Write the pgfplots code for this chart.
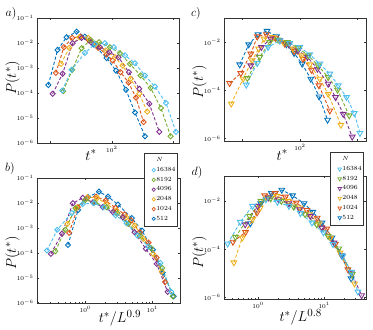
\documentclass[border=0pt]{standalone}
\usepackage{pgfplots}
\pgfplotsset{compat=1.18}
\definecolor{cB}{rgb}{0,0.447,0.741}
\definecolor{cO}{rgb}{0.850,0.325,0.098}
\definecolor{cY}{rgb}{0.929,0.694,0.125}
\definecolor{cP}{rgb}{0.494,0.184,0.556}
\definecolor{cG}{rgb}{0.466,0.674,0.188}
\definecolor{cL}{rgb}{0.301,0.745,0.933}
\pgfplotsset{
  myax/.style={
    scale only axis,
    axis line style={black!80, line width=0.6pt},
    tick align=inside,
    major tick length=2.2pt, minor tick length=1.2pt,
    every tick/.append style={black!80, line width=0.4pt},
    ticklabel style={font=\fontsize{5.6}{6.5}\selectfont},
    yminorticks=false,
    label style={font=\fontsize{15}{17}\selectfont},
    legend cell align=left,
    legend style={draw=black!80, line width=0.5pt, fill=white,
      font=\fontsize{6.3}{7}\selectfont, inner xsep=1pt, inner ysep=3.5pt, row sep=2.2pt,
      nodes={inner sep=0.9pt}},
  },
  sd/.style={color=#1, line width=0.9pt, dash pattern=on 3.2pt off 2pt,
    mark=diamond, mark size=2.6pt, mark options={solid, xscale=1.3, line width=0.9pt}},
  st/.style={color=#1, line width=0.9pt, dash pattern=on 3.2pt off 2pt,
    mark=triangle, mark size=3.3pt, mark options={solid, rotate=180, line width=0.9pt}},
  ld/.style={only marks, color=#1, mark=diamond, mark size=1.7pt, mark options={xscale=1.3, line width=0.7pt}},
  lt/.style={only marks, color=#1, mark=triangle, mark size=2.1pt, mark options={rotate=180, line width=0.7pt}},
}
\begin{document}
\begin{tikzpicture}
\path[use as bounding box] (0,0) rectangle (373pt,-330pt);

% a)
\begin{loglogaxis}[myax, at={(37pt,-18pt)}, anchor=north west,
  width=142pt, height=125pt,
  xmin=6, xmax=1250, ymin=1e-6, ymax=1e-1,
  xtick={10,100,1000}, xticklabels={,$10^{2}$,}, xminorticks=false,
  ytick={1e-6,1e-5,1e-4,1e-3,1e-2,1e-1},
  xlabel={$t^*$}, ylabel={$P(t^*)$},
  xlabel style={at={(axis description cs:0.38,-0.096)}, anchor=center},
  ylabel style={at={(axis description cs:-0.172,0.52)}, anchor=center}]
\addplot[sd=cB] coordinates {(9.2,2.1e-4) (13.0,5.3e-3) (18.2,0.017) (26.6,0.0285) (36.3,0.018) (51,8.6e-3) (82,2.5e-3) (117,7.9e-4) (170,1.35e-4) (239,1.66e-5) (348,1.86e-6)};
\addplot[sd=cO] coordinates {(12.2,6.4e-4) (16.5,6.8e-3) (22.6,0.016) (30.9,0.018) (42.8,0.0125) (60,6.4e-3) (82,3.5e-3) (103,2.0e-3) (139,6.8e-4) (188,2.6e-4) (248,6.5e-5) (330,6.9e-6)};
\addplot[sd=cY] coordinates {(14.8,1.46e-3) (20.2,6.4e-3) (29.4,0.017) (41.2,0.016) (56.4,9.2e-3) (80,5.0e-3) (112,2.7e-3) (150,1.26e-3) (203,3.7e-4) (281,9.3e-5) (379,1.8e-5)};
\addplot[sd=cP] coordinates {(10.8,9.3e-5) (15.7,5.9e-4) (22.9,9.8e-3) (32.1,0.016) (45.7,0.0107) (64,6.8e-3) (91,4.3e-3) (128,2.7e-3) (190,6.8e-4) (281,1.48e-4) (410,3.7e-5) (596,2.8e-6)};
\addplot[sd=cG] coordinates {(16.1,1.18e-4) (22.6,8.5e-4) (32.1,6.2e-3) (45,0.0132) (62,0.0107) (93,6.8e-3) (136,3.9e-3) (198,1.46e-3) (295,5.0e-4) (430,1.6e-4) (634,2.5e-5) (912,1.86e-6)};
\addplot[sd=cL] coordinates {(15.5,1.26e-4) (22,8.5e-4) (36.4,4.0e-3) (53,9.1e-3) (77,9.8e-3) (108,6.8e-3) (164,3.2e-3) (239,1.55e-3) (348,5.0e-4) (506,1.8e-4) (765,4.0e-5) (1114,2.8e-6)};
\end{loglogaxis}

% b)
\begin{loglogaxis}[myax, at={(37pt,-178pt)}, anchor=north west,
  width=143pt, height=125pt,
  xmin=0.19, xmax=26, ymin=1e-6, ymax=1e-1,
  xtick={1,10}, minor xtick={0.2,0.3,0.4,0.5,0.6,0.7,0.8,0.9,2,3,4,5,6,7,8,9,20},
  ytick={1e-6,1e-5,1e-4,1e-3,1e-2,1e-1},
  xlabel={$t^*/L^{0.9}$}, ylabel={$P(t^*)$},
  xlabel style={at={(axis description cs:0.58,-0.12)}, anchor=center},
  ylabel style={at={(axis description cs:-0.172,0.4)}, anchor=center},
  legend style={at={(rel axis cs:0.748,1.2)}, anchor=north west}]
\addlegendimage{empty legend}\addlegendentry{$N$}
\addlegendimage{ld=cL}\addlegendentry{16384}
\addlegendimage{ld=cG}\addlegendentry{8192}
\addlegendimage{ld=cP}\addlegendentry{4096}
\addlegendimage{ld=cY}\addlegendentry{2048}
\addlegendimage{ld=cO}\addlegendentry{1024}
\addlegendimage{ld=cB}\addlegendentry{512}
\addplot[sd=cB, forget plot] coordinates {(0.552,2.1e-4) (0.783,5.3e-3) (1.099,0.017) (1.600,0.0285) (2.188,0.018) (3.076,8.6e-3) (4.955,2.5e-3) (7.03,7.9e-4) (10.23,1.35e-4) (14.39,1.66e-5) (20.9,1.86e-6)};
\addplot[sd=cO, forget plot] coordinates {(0.574,6.4e-4) (0.774,6.8e-3) (1.062,0.016) (1.452,0.018) (2.014,0.0125) (2.825,6.4e-3) (3.864,3.5e-3) (4.842,2.0e-3) (6.546,6.8e-4) (8.83,2.6e-4) (11.64,6.5e-5) (15.52,6.9e-6)};
\addplot[sd=cY, forget plot] coordinates {(0.540,1.46e-3) (0.738,6.4e-3) (1.074,0.017) (1.507,0.016) (2.061,9.2e-3) (2.931,5.0e-3) (4.111,2.7e-3) (5.483,1.26e-3) (7.413,3.7e-4) (10.28,9.3e-5) (13.87,1.8e-5)};
\addplot[sd=cP, forget plot] coordinates {(0.307,9.3e-5) (0.448,5.9e-4) (0.652,9.8e-3) (0.916,0.016) (1.303,0.0107) (1.824,6.8e-3) (2.594,4.3e-3) (3.639,2.7e-3) (5.433,6.8e-4) (8.017,1.48e-4) (11.67,3.7e-5) (16.98,2.8e-6)};
\addplot[sd=cG, forget plot] coordinates {(0.357,1.18e-4) (0.502,8.5e-4) (0.713,6.2e-3) (1.000,0.0132) (1.387,0.0107) (2.075,6.8e-3) (3.020,3.9e-3) (4.395,1.46e-3) (6.561,5.0e-4) (9.55,1.6e-4) (14.09,2.5e-5) (20.28,1.86e-6)};
\addplot[sd=cL, forget plot] coordinates {(0.268,1.26e-4) (0.381,8.5e-4) (0.630,4.0e-3) (0.916,9.1e-3) (1.337,9.8e-3) (1.875,6.8e-3) (2.838,3.2e-3) (4.130,1.55e-3) (6.012,5.0e-4) (8.75,1.8e-4) (13.24,4.0e-5) (19.28,2.8e-6)};
\end{loglogaxis}

% c)
\begin{loglogaxis}[myax, at={(224pt,-18pt)}, anchor=north west,
  width=142pt, height=123pt,
  xmin=4.8, xmax=1400, ymin=8e-7, ymax=1e-1,
  xtick={10,100,1000}, xticklabels={,$10^{2}$,}, xminorticks=false,
  ytick={1e-6,1e-4,1e-2},
  xlabel={$t^*$}, ylabel={$P(t^*)$},
  xlabel style={at={(axis description cs:0.41,-0.114)}, anchor=center},
  ylabel style={at={(axis description cs:-0.172,0.48)}, anchor=center}]
\addplot[st=cB] coordinates {(9.0,1.18e-3) (12.9,8.0e-3) (18.7,0.021) (26.8,0.029) (39,0.017) (58,8.0e-3) (79,3.5e-3) (109,1.26e-3) (154,3.0e-4) (215,5.5e-5) (301,6.0e-6)};
\addplot[st=cO] coordinates {(6.0,2.0e-4) (9.4,5.1e-4) (14.0,3.3e-3) (18.2,0.017) (26.1,0.021) (37.5,0.015) (54.5,8.5e-3) (79,4.2e-3) (113,2.0e-3) (158,7.1e-4) (213,1.6e-4) (330,1.45e-5)};
\addplot[st=cY] coordinates {(6.4,2.8e-5) (10.3,3.0e-4) (14.7,1.74e-3) (19.2,5.3e-3) (23.8,0.0138) (34.1,0.016) (51,0.010) (76,5.3e-3) (106,2.8e-3) (148,1.18e-3) (221,3.0e-4) (309,7.1e-5) (513,3.7e-6)};
\addplot[st=cP] coordinates {(14.0,1.07e-3) (21.4,6.2e-3) (31,0.0138) (44.6,0.0117) (64,8.0e-3) (93,4.5e-3) (135,2.4e-3) (201,7.8e-4) (309,1.86e-4) (414,5.2e-5) (563,1.05e-5) (807,1.2e-6)};
\addplot[st=cG] coordinates {(12.2,3.2e-4) (20,2.4e-3) (29.9,0.010) (41.7,0.0126) (60.6,0.010) (93,5.8e-3) (139,2.8e-3) (207,1.07e-3) (309,3.5e-4) (449,1.05e-4) (716,9.1e-6)};
\addplot[st=cL] coordinates {(11.7,1.7e-4) (18.2,1.35e-3) (27.9,6.2e-3) (44.6,0.0117) (66.5,9.1e-3) (99,6.2e-3) (148,3.1e-3) (221,1.26e-3) (330,4.9e-4) (461,1.6e-4) (644,5.2e-5) (875,1.13e-5) (1099,1.7e-6)};
\end{loglogaxis}

% d)
\begin{loglogaxis}[myax, at={(224pt,-176pt)}, anchor=north west,
  width=142pt, height=123pt,
  xmin=0.305, xmax=43, ymin=8.5e-7, ymax=0.11,
  xtick={1,10}, minor xtick={0.4,0.5,0.6,0.7,0.8,0.9,2,3,4,5,6,7,8,9,20,30,40},
  ytick={1e-6,1e-4,1e-2},
  xlabel={$t^*/L^{0.8}$}, ylabel={$P(t^*)$},
  xlabel style={at={(axis description cs:0.54,-0.146)}, anchor=center},
  ylabel style={at={(axis description cs:-0.172,0.38)}, anchor=center},
  legend style={at={(rel axis cs:0.746,1.195)}, anchor=north west}]
\addlegendimage{empty legend}\addlegendentry{$N$}
\addlegendimage{lt=cL}\addlegendentry{16384}
\addlegendimage{lt=cG}\addlegendentry{8192}
\addlegendimage{lt=cP}\addlegendentry{4096}
\addlegendimage{lt=cY}\addlegendentry{2048}
\addlegendimage{lt=cO}\addlegendentry{1024}
\addlegendimage{lt=cB}\addlegendentry{512}
\addplot[st=cB, forget plot] coordinates {(0.766,1.18e-3) (1.096,8.0e-3) (1.592,0.021) (2.286,0.029) (3.319,0.017) (4.955,8.0e-3) (6.745,3.5e-3) (9.29,1.26e-3) (13.12,3.0e-4) (18.32,5.5e-5) (25.59,6.0e-6)};
\addplot[st=cO, forget plot] coordinates {(0.417,2.0e-4) (0.647,5.1e-4) (0.966,3.3e-3) (1.262,0.017) (1.807,0.021) (2.594,0.015) (3.767,8.5e-3) (5.483,4.2e-3) (7.852,2.0e-3) (10.96,7.1e-4) (14.72,1.6e-4) (22.86,1.45e-5)};
\addplot[st=cY, forget plot] coordinates {(0.43,2.8e-5) (0.578,3.0e-4) (0.828,1.74e-3) (1.081,5.3e-3) (1.340,0.0138) (1.919,0.016) (2.864,0.010) (4.276,5.3e-3) (5.970,2.8e-3) (8.337,1.18e-3) (12.45,3.0e-4) (17.38,7.1e-5) (28.84,3.7e-6)};
\addplot[st=cP, forget plot] coordinates {(0.638,1.07e-3) (0.977,6.2e-3) (1.422,0.0138) (2.037,0.0117) (2.924,8.0e-3) (4.246,4.5e-3) (6.166,2.4e-3) (9.204,7.8e-4) (14.13,1.86e-4) (18.92,5.2e-5) (25.76,1.05e-5) (36.9,1.2e-6)};
\addplot[st=cG, forget plot] coordinates {(0.454,3.2e-4) (0.743,2.4e-3) (1.109,0.010) (1.549,0.0126) (2.254,0.010) (3.451,5.8e-3) (5.152,2.8e-3) (7.691,1.07e-3) (11.48,3.5e-4) (16.67,1.05e-4) (26.61,9.1e-6)};
\addplot[st=cL, forget plot] coordinates {(0.347,1.7e-4) (0.538,1.35e-3) (0.824,6.2e-3) (1.315,0.0117) (1.963,9.1e-3) (2.931,6.2e-3) (4.375,3.1e-3) (6.531,1.26e-3) (9.75,4.9e-4) (13.61,1.6e-4) (19.01,5.2e-5) (25.82,1.13e-5) (32.43,1.7e-6)};
\end{loglogaxis}

\node[font=\fontsize{12}{14}\selectfont] at (11pt,-13pt) {$a)$};
\node[font=\fontsize{12}{14}\selectfont] at (10pt,-168pt) {$b)$};
\node[font=\fontsize{12}{14}\selectfont] at (196pt,-13pt) {$c)$};
\node[font=\fontsize{12}{14}\selectfont] at (197pt,-172pt) {$d)$};
\end{tikzpicture}
\end{document}
